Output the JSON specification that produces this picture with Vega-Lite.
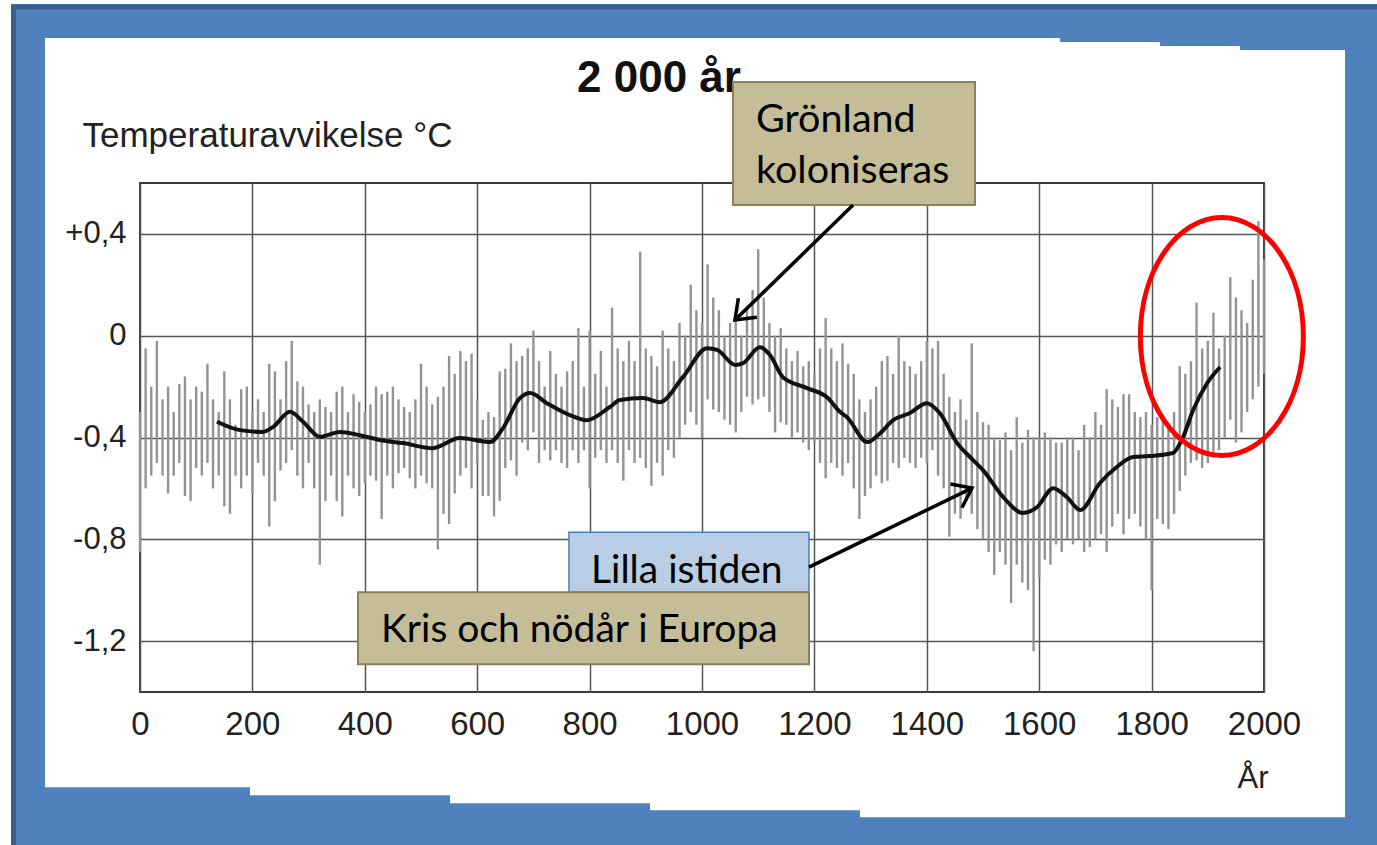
{
  "$schema": "https://vega.github.io/schema/vega-lite/v6.json",
  "width": 1124,
  "height": 509,
  "autosize": {"type": "none"},
  "padding": {"left": 140, "top": 183, "right": 113, "bottom": 153},
  "background": "white",
  "config": {
    "view": {"stroke": "#3a3a3a", "strokeWidth": 2},
    "axis": {"labelFont": "Liberation Sans", "titleFont": "Liberation Sans", "labelColor": "#222", "titleColor": "#222"}
  },
  "data": {"values": [{}]},
  "datasets": {
    "proxy": [
      {"year":0,"lo":-0.85,"hi":-0.30},{"year":10,"lo":-0.60,"hi":-0.05},{"year":20,"lo":-0.55,"hi":-0.20},{"year":30,"lo":-0.50,"hi":-0.02},{"year":40,"lo":-0.55,"hi":-0.25},
      {"year":50,"lo":-0.62,"hi":-0.20},{"year":60,"lo":-0.55,"hi":-0.30},{"year":70,"lo":-0.50,"hi":-0.19},{"year":80,"lo":-0.63,"hi":-0.16},{"year":90,"lo":-0.65,"hi":-0.25},
      {"year":100,"lo":-0.52,"hi":-0.20},{"year":110,"lo":-0.55,"hi":-0.22},{"year":120,"lo":-0.50,"hi":-0.11},{"year":130,"lo":-0.60,"hi":-0.25},{"year":140,"lo":-0.55,"hi":-0.30},
      {"year":150,"lo":-0.67,"hi":-0.14},{"year":160,"lo":-0.70,"hi":-0.25},{"year":170,"lo":-0.55,"hi":-0.35},{"year":180,"lo":-0.60,"hi":-0.21},{"year":190,"lo":-0.55,"hi":-0.20},
      {"year":200,"lo":-0.62,"hi":-0.30},{"year":210,"lo":-0.50,"hi":-0.25},{"year":220,"lo":-0.55,"hi":-0.30},{"year":230,"lo":-0.75,"hi":-0.11},{"year":240,"lo":-0.65,"hi":-0.14},
      {"year":250,"lo":-0.53,"hi":-0.25},{"year":260,"lo":-0.50,"hi":-0.10},{"year":270,"lo":-0.45,"hi":-0.02},{"year":280,"lo":-0.55,"hi":-0.18},{"year":290,"lo":-0.60,"hi":-0.20},
      {"year":300,"lo":-0.50,"hi":-0.27},{"year":310,"lo":-0.60,"hi":-0.30},{"year":320,"lo":-0.90,"hi":-0.25},{"year":330,"lo":-0.65,"hi":-0.28},{"year":340,"lo":-0.55,"hi":-0.30},
      {"year":350,"lo":-0.65,"hi":-0.22},{"year":360,"lo":-0.71,"hi":-0.20},{"year":370,"lo":-0.55,"hi":-0.30},{"year":380,"lo":-0.60,"hi":-0.23},{"year":390,"lo":-0.63,"hi":-0.26},
      {"year":400,"lo":-0.58,"hi":-0.30},{"year":410,"lo":-0.55,"hi":-0.27},{"year":420,"lo":-0.57,"hi":-0.20},{"year":430,"lo":-0.72,"hi":-0.23},{"year":440,"lo":-0.55,"hi":-0.22},
      {"year":450,"lo":-0.60,"hi":-0.20},{"year":460,"lo":-0.54,"hi":-0.25},{"year":470,"lo":-0.52,"hi":-0.28},{"year":480,"lo":-0.56,"hi":-0.30},{"year":490,"lo":-0.60,"hi":-0.25},
      {"year":500,"lo":-0.55,"hi":-0.11},{"year":510,"lo":-0.58,"hi":-0.20},{"year":520,"lo":-0.60,"hi":-0.27},{"year":530,"lo":-0.84,"hi":-0.24},{"year":540,"lo":-0.70,"hi":-0.20},
      {"year":550,"lo":-0.74,"hi":-0.08},{"year":560,"lo":-0.62,"hi":-0.15},{"year":570,"lo":-0.55,"hi":-0.06},{"year":580,"lo":-0.52,"hi":-0.10},{"year":590,"lo":-0.60,"hi":-0.07},
      {"year":600,"lo":-0.50,"hi":-0.25},{"year":610,"lo":-0.63,"hi":-0.33},{"year":620,"lo":-0.63,"hi":-0.30},{"year":630,"lo":-0.71,"hi":-0.32},{"year":640,"lo":-0.65,"hi":-0.14},
      {"year":650,"lo":-0.52,"hi":-0.13},{"year":660,"lo":-0.49,"hi":-0.03},{"year":670,"lo":-0.55,"hi":-0.10},{"year":680,"lo":-0.42,"hi":-0.08},{"year":690,"lo":-0.45,"hi":-0.05},
      {"year":700,"lo":-0.38,"hi":0.02},{"year":710,"lo":-0.50,"hi":-0.10},{"year":720,"lo":-0.45,"hi":-0.20},{"year":730,"lo":-0.49,"hi":-0.06},{"year":740,"lo":-0.45,"hi":-0.15},
      {"year":750,"lo":-0.50,"hi":-0.20},{"year":760,"lo":-0.52,"hi":-0.14},{"year":770,"lo":-0.45,"hi":-0.10},{"year":780,"lo":-0.50,"hi":0.03},{"year":790,"lo":-0.45,"hi":-0.20},
      {"year":800,"lo":-0.60,"hi":0.02},{"year":810,"lo":-0.48,"hi":-0.15},{"year":820,"lo":-0.45,"hi":-0.06},{"year":830,"lo":-0.50,"hi":-0.20},{"year":840,"lo":-0.45,"hi":0.11},
      {"year":850,"lo":-0.50,"hi":-0.05},{"year":860,"lo":-0.57,"hi":-0.10},{"year":870,"lo":-0.45,"hi":-0.02},{"year":880,"lo":-0.50,"hi":-0.10},{"year":890,"lo":-0.48,"hi":0.33},
      {"year":900,"lo":-0.52,"hi":-0.05},{"year":910,"lo":-0.59,"hi":-0.08},{"year":920,"lo":-0.50,"hi":-0.12},{"year":930,"lo":-0.55,"hi":0.02},{"year":940,"lo":-0.45,"hi":-0.05},
      {"year":950,"lo":-0.48,"hi":-0.10},{"year":960,"lo":-0.40,"hi":0.05},{"year":970,"lo":-0.35,"hi":0.00},{"year":980,"lo":-0.30,"hi":0.20},{"year":990,"lo":-0.35,"hi":0.10},
      {"year":1000,"lo":-0.40,"hi":0.05},{"year":1010,"lo":-0.25,"hi":0.28},{"year":1020,"lo":-0.29,"hi":0.15},{"year":1030,"lo":-0.30,"hi":0.10},{"year":1040,"lo":-0.33,"hi":0.00},
      {"year":1050,"lo":-0.35,"hi":0.05},{"year":1060,"lo":-0.38,"hi":0.09},{"year":1070,"lo":-0.30,"hi":0.00},{"year":1080,"lo":-0.24,"hi":0.10},{"year":1090,"lo":-0.27,"hi":0.18},
      {"year":1100,"lo":-0.25,"hi":0.34},{"year":1110,"lo":-0.24,"hi":0.15},{"year":1120,"lo":-0.30,"hi":0.05},{"year":1130,"lo":-0.38,"hi":0.00},{"year":1140,"lo":-0.34,"hi":0.03},
      {"year":1150,"lo":-0.35,"hi":-0.05},{"year":1160,"lo":-0.40,"hi":-0.10},{"year":1170,"lo":-0.38,"hi":-0.06},{"year":1180,"lo":-0.42,"hi":-0.12},{"year":1190,"lo":-0.45,"hi":-0.10},
      {"year":1200,"lo":-0.42,"hi":-0.15},{"year":1210,"lo":-0.50,"hi":-0.05},{"year":1220,"lo":-0.56,"hi":0.07},{"year":1230,"lo":-0.50,"hi":-0.05},{"year":1240,"lo":-0.52,"hi":-0.10},
      {"year":1250,"lo":-0.55,"hi":-0.03},{"year":1260,"lo":-0.50,"hi":-0.11},{"year":1270,"lo":-0.60,"hi":-0.15},{"year":1280,"lo":-0.72,"hi":-0.25},{"year":1290,"lo":-0.63,"hi":-0.30},
      {"year":1300,"lo":-0.60,"hi":-0.25},{"year":1310,"lo":-0.55,"hi":-0.20},{"year":1320,"lo":-0.58,"hi":-0.10},{"year":1330,"lo":-0.57,"hi":-0.08},{"year":1340,"lo":-0.50,"hi":-0.15},
      {"year":1350,"lo":-0.52,"hi":0.00},{"year":1360,"lo":-0.48,"hi":-0.10},{"year":1370,"lo":-0.50,"hi":-0.12},{"year":1380,"lo":-0.52,"hi":-0.15},{"year":1390,"lo":-0.48,"hi":-0.10},
      {"year":1400,"lo":-0.50,"hi":-0.02},{"year":1410,"lo":-0.45,"hi":-0.05},{"year":1420,"lo":-0.55,"hi":-0.02},{"year":1430,"lo":-0.60,"hi":-0.15},{"year":1440,"lo":-0.79,"hi":-0.24},
      {"year":1450,"lo":-0.70,"hi":-0.30},{"year":1460,"lo":-0.72,"hi":-0.25},{"year":1470,"lo":-0.65,"hi":-0.33},{"year":1480,"lo":-0.70,"hi":-0.03},{"year":1490,"lo":-0.76,"hi":-0.30},
      {"year":1500,"lo":-0.80,"hi":-0.34},{"year":1510,"lo":-0.85,"hi":-0.35},{"year":1520,"lo":-0.94,"hi":-0.40},{"year":1530,"lo":-0.85,"hi":-0.41},{"year":1540,"lo":-0.90,"hi":-0.38},
      {"year":1550,"lo":-1.05,"hi":-0.45},{"year":1560,"lo":-0.90,"hi":-0.32},{"year":1570,"lo":-0.97,"hi":-0.42},{"year":1580,"lo":-1.00,"hi":-0.37},{"year":1590,"lo":-1.24,"hi":-0.40},
      {"year":1600,"lo":-0.95,"hi":-0.40},{"year":1610,"lo":-0.88,"hi":-0.38},{"year":1620,"lo":-0.90,"hi":-0.40},{"year":1630,"lo":-0.82,"hi":-0.42},{"year":1640,"lo":-0.85,"hi":-0.42},
      {"year":1650,"lo":-0.80,"hi":-0.40},{"year":1660,"lo":-0.82,"hi":-0.40},{"year":1670,"lo":-0.80,"hi":-0.45},{"year":1680,"lo":-0.85,"hi":-0.35},{"year":1690,"lo":-0.83,"hi":-0.40},
      {"year":1700,"lo":-0.80,"hi":-0.30},{"year":1710,"lo":-0.78,"hi":-0.35},{"year":1720,"lo":-0.85,"hi":-0.21},{"year":1730,"lo":-0.75,"hi":-0.25},{"year":1740,"lo":-0.70,"hi":-0.28},
      {"year":1750,"lo":-0.78,"hi":-0.23},{"year":1760,"lo":-0.72,"hi":-0.23},{"year":1770,"lo":-0.70,"hi":-0.30},{"year":1780,"lo":-0.75,"hi":-0.32},{"year":1790,"lo":-0.80,"hi":-0.30},
      {"year":1800,"lo":-1.00,"hi":-0.35},{"year":1810,"lo":-0.72,"hi":-0.32},{"year":1820,"lo":-0.74,"hi":-0.32},{"year":1830,"lo":-0.76,"hi":-0.35},{"year":1840,"lo":-0.70,"hi":-0.30},
      {"year":1850,"lo":-0.61,"hi":-0.12},{"year":1860,"lo":-0.55,"hi":-0.15},{"year":1870,"lo":-0.50,"hi":-0.10},{"year":1880,"lo":-0.49,"hi":0.13},{"year":1890,"lo":-0.52,"hi":-0.05},
      {"year":1900,"lo":-0.50,"hi":-0.02},{"year":1910,"lo":-0.46,"hi":0.09},{"year":1920,"lo":-0.45,"hi":-0.05},{"year":1930,"lo":-0.40,"hi":0.00},{"year":1940,"lo":-0.33,"hi":0.23},
      {"year":1950,"lo":-0.42,"hi":0.15},{"year":1960,"lo":-0.38,"hi":0.10},{"year":1970,"lo":-0.30,"hi":0.05},{"year":1980,"lo":-0.25,"hi":0.22},{"year":1990,"lo":-0.20,"hi":0.45},
      {"year":2000,"lo":-0.15,"hi":0.30}
    ],
    "smooth": [
      {"year":137,"t":-0.338},{"year":178,"t":-0.371},{"year":219,"t":-0.378},{"year":237,"t":-0.358},{"year":267,"t":-0.299},
      {"year":290,"t":-0.338},{"year":320,"t":-0.397},{"year":356,"t":-0.378},{"year":391,"t":-0.391},{"year":427,"t":-0.410},
      {"year":468,"t":-0.422},{"year":521,"t":-0.442},{"year":569,"t":-0.402},{"year":623,"t":-0.418},{"year":646,"t":-0.363},
      {"year":676,"t":-0.245},{"year":694,"t":-0.225},{"year":724,"t":-0.265},{"year":765,"t":-0.312},{"year":795,"t":-0.332},
      {"year":836,"t":-0.280},{"year":854,"t":-0.253},{"year":895,"t":-0.245},{"year":925,"t":-0.261},{"year":966,"t":-0.163},
      {"year":1009,"t":-0.049},{"year":1027,"t":-0.056},{"year":1059,"t":-0.115},{"year":1073,"t":-0.108},{"year":1103,"t":-0.045},
      {"year":1121,"t":-0.076},{"year":1144,"t":-0.163},{"year":1187,"t":-0.206},{"year":1222,"t":-0.241},{"year":1246,"t":-0.300},
      {"year":1258,"t":-0.320},{"year":1294,"t":-0.418},{"year":1317,"t":-0.383},{"year":1340,"t":-0.332},{"year":1370,"t":-0.304},
      {"year":1400,"t":-0.265},{"year":1423,"t":-0.304},{"year":1454,"t":-0.422},{"year":1477,"t":-0.477},{"year":1500,"t":-0.528},
      {"year":1536,"t":-0.634},{"year":1571,"t":-0.697},{"year":1596,"t":-0.674},{"year":1625,"t":-0.599},{"year":1649,"t":-0.634},
      {"year":1673,"t":-0.685},{"year":1708,"t":-0.579},{"year":1738,"t":-0.516},{"year":1767,"t":-0.477},{"year":1797,"t":-0.473},
      {"year":1838,"t":-0.461},{"year":1856,"t":-0.398},{"year":1874,"t":-0.292},{"year":1899,"t":-0.186},{"year":1922,"t":-0.123}
    ]
  },
  "layer": [
    {
      "data": {"name": "proxy"},
      "mark": {"type": "rule", "color": "#939393", "strokeWidth": 2.4},
      "encoding": {
        "x": {
          "field": "year", "type": "quantitative",
          "scale": {"domain": [0, 2000], "nice": false, "zero": false},
          "axis": {
            "values": [0, 200, 400, 600, 800, 1000, 1200, 1400, 1600, 1800, 2000],
            "format": "d", "labelFontSize": 33, "labelPadding": 16, "labelFlush": false, "labelOverlap": false,
            "ticks": false, "domain": false, "grid": true, "gridColor": "#555", "gridWidth": 1.5,
            "title": "År", "titleFontSize": 31, "titleFontWeight": "normal",
            "titleX": 1128, "titleY": 95, "titleAlign": "right", "titleBaseline": "alphabetic"
          }
        },
        "y": {
          "field": "lo", "type": "quantitative",
          "scale": {"domain": [-1.4, 0.6], "nice": false, "zero": false},
          "axis": {
            "values": [0.4, 0, -0.4, -0.8, -1.2],
            "labelExpr": "datum.value > 0.001 ? '+' + replace(format(datum.value, '.1f'), '.', ',') : (datum.value < -0.001 ? '-' + replace(format(-datum.value, '.1f'), '.', ',') : '0')",
            "labelFontSize": 31, "labelPadding": 14, "ticks": false, "domain": false,
            "grid": true, "gridColor": "#555", "gridWidth": 1.5,
            "title": "Temperaturavvikelse °C", "titleFontSize": 35, "titleFontWeight": "normal", "titleAngle": 0,
            "titleX": -58, "titleY": -37, "titleAlign": "left", "titleBaseline": "alphabetic"
          }
        },
        "y2": {"field": "hi"}
      }
    },
    {
      "data": {"name": "smooth"},
      "mark": {"type": "line", "color": "#111", "strokeWidth": 4, "interpolate": "monotone"},
      "encoding": {
        "x": {"field": "year", "type": "quantitative"},
        "y": {"field": "t", "type": "quantitative"}
      }
    },
    {
      "mark": {"type": "rect", "fill": "#4F81BD"},
      "encoding": {"x": {"datum": -229.5, "type": "quantitative"}, "x2": {"datum": 2300}, "y": {"datum": 1.3036, "type": "quantitative"}, "y2": {"datum": 1.17}}
    },
    {
      "mark": {"type": "rect", "fill": "#4F81BD"},
      "encoding": {"x": {"datum": -229.5, "type": "quantitative"}, "x2": {"datum": -169.04}, "y": {"datum": 1.3036, "type": "quantitative"}, "y2": {"datum": -2.2}}
    },
    {
      "mark": {"type": "rect", "fill": "#4F81BD"},
      "encoding": {"x": {"datum": 2144.1, "type": "quantitative"}, "x2": {"datum": 2300}, "y": {"datum": 1.3036, "type": "quantitative"}, "y2": {"datum": -2.2}}
    },
    {
      "mark": {"type": "rect", "fill": "#4F81BD"},
      "encoding": {"x": {"datum": -229.5, "type": "quantitative"}, "x2": {"datum": 2300}, "y": {"datum": -1.8921, "type": "quantitative"}, "y2": {"datum": -2.2}}
    },
    {
      "mark": {"type": "rect", "fill": "#4F81BD"},
      "encoding": {"x": {"datum": -169.04, "type": "quantitative"}, "x2": {"datum": 195.7}, "y": {"datum": -1.7742, "type": "quantitative"}, "y2": {"datum": -1.9}}
    },
    {
      "mark": {"type": "rect", "fill": "#4F81BD"},
      "encoding": {"x": {"datum": 195.7, "type": "quantitative"}, "x2": {"datum": 551.6}, "y": {"datum": -1.8057, "type": "quantitative"}, "y2": {"datum": -1.9}}
    },
    {
      "mark": {"type": "rect", "fill": "#4F81BD"},
      "encoding": {"x": {"datum": 551.6, "type": "quantitative"}, "x2": {"datum": 907.5}, "y": {"datum": -1.8371, "type": "quantitative"}, "y2": {"datum": -1.9}}
    },
    {
      "mark": {"type": "rect", "fill": "#4F81BD"},
      "encoding": {"x": {"datum": 907.5, "type": "quantitative"}, "x2": {"datum": 1281.1}, "y": {"datum": -1.8646, "type": "quantitative"}, "y2": {"datum": -1.9}}
    },
    {
      "mark": {"type": "rect", "fill": "#4F81BD"},
      "encoding": {"x": {"datum": 1637.0, "type": "quantitative"}, "x2": {"datum": 2144.1}, "y": {"datum": 1.175, "type": "quantitative"}, "y2": {"datum": 1.1542}}
    },
    {
      "mark": {"type": "rect", "fill": "#4F81BD"},
      "encoding": {"x": {"datum": 1815.0, "type": "quantitative"}, "x2": {"datum": 2144.1}, "y": {"datum": 1.175, "type": "quantitative"}, "y2": {"datum": 1.1385}}
    },
    {
      "mark": {"type": "rect", "fill": "#4F81BD"},
      "encoding": {"x": {"datum": 1957.3, "type": "quantitative"}, "x2": {"datum": 2144.1}, "y": {"datum": 1.175, "type": "quantitative"}, "y2": {"datum": 1.1228}}
    },
    {
      "mark": {"type": "rect", "fillOpacity": 0, "stroke": "#3B5E8C", "strokeWidth": 5},
      "encoding": {"x": {"datum": -225.1, "type": "quantitative"}, "x2": {"datum": 2300}, "y": {"datum": 1.2918, "type": "quantitative"}, "y2": {"datum": -2.2}}
    },
    {
      "mark": {"type": "text", "text": "2 000 år", "font": "Liberation Sans", "fontSize": 44, "fontWeight": "bold", "align": "left", "baseline": "alphabetic", "color": "#111"},
      "encoding": {"x": {"datum": 777.6, "type": "quantitative"}, "y": {"datum": 0.9577, "type": "quantitative"}}
    },
    {
      "mark": {"type": "rect", "fill": "#C4BD97", "stroke": "#8C8157", "strokeWidth": 2},
      "encoding": {"x": {"datum": 1055.2, "type": "quantitative"}, "x2": {"datum": 1485.8}, "y": {"datum": 0.997, "type": "quantitative"}, "y2": {"datum": 0.5135}}
    },
    {
      "mark": {"type": "text", "text": ["Grönland", "koloniseras"], "font": "Lato", "fontSize": 39.5, "lineHeight": 51, "align": "left", "baseline": "alphabetic", "color": "#000"},
      "encoding": {"x": {"datum": 1096.1, "type": "quantitative"}, "y": {"datum": 0.8005, "type": "quantitative"}}
    },
    {
      "mark": {"type": "rect", "fill": "#B9CDE5", "stroke": "#4A7EBB", "strokeWidth": 1.5},
      "encoding": {"x": {"datum": 763.3, "type": "quantitative"}, "x2": {"datum": 1190.4}, "y": {"datum": -0.772, "type": "quantitative"}, "y2": {"datum": -1.0077}}
    },
    {
      "mark": {"type": "text", "text": "Lilla istiden", "font": "Lato", "fontSize": 39, "align": "left", "baseline": "alphabetic", "color": "#000"},
      "encoding": {"x": {"datum": 802.5, "type": "quantitative"}, "y": {"datum": -0.972, "type": "quantitative"}}
    },
    {
      "mark": {"type": "rect", "fill": "#C4BD97", "stroke": "#8C8157", "strokeWidth": 2},
      "encoding": {"x": {"datum": 387.9, "type": "quantitative"}, "x2": {"datum": 1190.4}, "y": {"datum": -1.0077, "type": "quantitative"}, "y2": {"datum": -1.2907}}
    },
    {
      "mark": {"type": "text", "text": "Kris och nödår i Europa", "font": "Lato", "fontSize": 39, "align": "left", "baseline": "alphabetic", "color": "#000"},
      "encoding": {"x": {"datum": 428.8, "type": "quantitative"}, "y": {"datum": -1.204, "type": "quantitative"}}
    },
    {
      "mark": {"type": "rule", "color": "#000", "strokeWidth": 3.5},
      "encoding": {"x": {"datum": 1268.7, "type": "quantitative"}, "x2": {"datum": 1058.7}, "y": {"datum": 0.5135, "type": "quantitative"}, "y2": {"datum": 0.0615}}
    },
    {
      "mark": {"type": "point", "shape": "M-0.6,0.8L0,0L0.6,0.8", "size": 1936, "filled": false, "color": "#000", "strokeWidth": 3.5, "angle": 225.7, "opacity": 1},
      "encoding": {"x": {"datum": 1058.7, "type": "quantitative"}, "y": {"datum": 0.0615, "type": "quantitative"}}
    },
    {
      "mark": {"type": "rule", "color": "#000", "strokeWidth": 3.5},
      "encoding": {"x": {"datum": 1190.4, "type": "quantitative"}, "x2": {"datum": 1480.4}, "y": {"datum": -0.9094, "type": "quantitative"}, "y2": {"datum": -0.5989}}
    },
    {
      "mark": {"type": "point", "shape": "M-0.6,0.8L0,0L0.6,0.8", "size": 1936, "filled": false, "color": "#000", "strokeWidth": 3.5, "angle": 64.1, "opacity": 1},
      "encoding": {"x": {"datum": 1480.4, "type": "quantitative"}, "y": {"datum": -0.5989, "type": "quantitative"}}
    },
    {
      "mark": {"type": "point", "shape": "M0,-1C0.3783,-1,0.685,-0.5523,0.685,0C0.685,0.5523,0.3783,1,0,1C-0.3783,1,-0.685,0.5523,-0.685,0C-0.685,-0.5523,-0.3783,-1,0,-1Z", "size": 56644, "filled": false, "color": "#FF0000", "strokeWidth": 5, "opacity": 1},
      "encoding": {"x": {"datum": 1925, "type": "quantitative"}, "y": {"datum": -0.003, "type": "quantitative"}}
    }
  ]
}
